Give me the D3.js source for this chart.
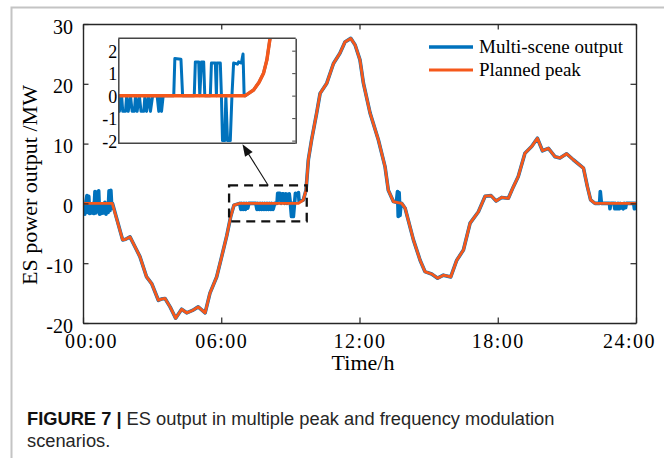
<!DOCTYPE html>
<html>
<head>
<meta charset="utf-8">
<script src="https://cdn.jsdelivr.net/npm/d3@7"></script>
<style>
body { margin: 0; background: #fff; }
svg text { font-family: "Liberation Serif", "Times New Roman", serif; fill: #000; }
svg text.caption { font-family: "Liberation Sans", Arial, sans-serif; fill: #262626; }
</style>
</head>
<body>
<svg id="chart" width="664" height="458"></svg>
<script>
// planned peak curve (orange), hours and MW
var planHours = [0, 1.27, 1.72, 1.85, 2.04, 2.25, 2.47, 2.76, 2.98, 3.27, 3.4, 3.56, 3.78, 4.02, 4.28, 4.5, 4.75, 5.0, 5.3, 5.51,
  5.8, 6.0, 6.24, 6.41, 6.55, 6.81, 9.35, 9.56, 9.68, 9.78, 9.92, 10.14, 10.29, 10.58, 10.87, 11.15, 11.37, 11.62, 11.81,
  12.02, 12.17, 12.46, 12.82, 13.11, 13.25, 13.47, 13.83, 13.98, 14.34, 14.63, 14.84, 15.13, 15.39, 15.64, 15.96, 16.22,
  16.51, 16.8, 17.16, 17.45, 17.71, 17.93, 18.17, 18.46, 18.68, 18.89, 19.18, 19.47, 19.72, 19.94, 20.2, 20.49, 20.7,
  20.99, 21.28, 21.72, 21.89, 22.03, 22.22, 24];
var planMW = [0, 0, -6.1, -6.0, -5.6, -7.2, -8.9, -12.3, -13.4, -16.2, -16.0, -15.9, -17.3, -19.2, -17.7, -18.3, -17.9, -17.3, -18.3, -15.0,
  -12.3, -9.2, -5.4, -2.2, -0.3, 0, 0, 0.57, 2.2, 7.3, 10.6, 15.1, 18.4, 20.1, 23.4, 25.1, 27.0, 27.6, 26.5,
  24.0, 20.1, 15.1, 10.6, 6.1, 2.2, 0.3, 0, -0.8, -6.1, -9.5, -11.4, -11.8, -12.5, -12.0, -12.3, -9.5,
  -7.8, -3.3, -1.4, 1.2, 1.3, 0.4, 1.0, 0.85, 2.8, 4.5, 8.4, 9.5, 10.9, 8.8, 9.2, 7.8, 7.6,
  8.3, 7.3, 5.9, 2.8, 0.6, 0, 0];

// multi-scene output (blue) where it departs from the plan: [hour, MW]
var noiseNight = [[0, -1.9], [0.04, -0.2], [0.08, -1.8], [0.13, 0.3], [0.17, 1.3], [0.21, -1.5], [0.25, 1.2], [0.29, -1.7],
  [0.34, -0.3], [0.38, -1.6], [0.43, 0], [0.47, -1.7], [0.52, 2.0], [0.56, -1.6], [0.6, 1.9], [0.64, 0.5], [0.68, 2.1],
  [0.72, -1.8], [0.77, -0.2], [0.81, -1.7], [0.86, -0.4], [0.9, -1.6], [0.95, 0.2], [1.0, -1.8], [1.05, 0], [1.09, -1.5],
  [1.13, 2.1], [1.17, -1.2], [1.21, 2.2], [1.25, -0.8], [1.28, 0]];
var noiseMorning = [[6.8, 0], [6.85, -1.0], [6.9, 0], [6.95, -1.0], [7.0, 0], [7.05, -1.0], [7.1, 0], [7.15, -0.8], [7.2, 0],
  [7.5, 0], [7.55, -1.0], [7.6, 0], [7.65, -1.0], [7.7, 0], [7.75, -1.0], [7.8, 0], [7.85, -1.0], [7.9, 0], [7.95, -1.0],
  [8.0, 0], [8.05, -1.0], [8.1, 0], [8.15, -1.0], [8.2, 0], [8.25, -1.0], [8.32, 0], [8.42, 0], [8.45, 1.7], [8.55, 1.7],
  [8.6, 0], [8.65, 1.6], [8.7, 1.6], [8.75, 0], [8.8, 1.6], [8.85, 0], [8.9, 1.5], [8.95, 1.6], [9.0, 0], [9.05, -2.2],
  [9.1, 0], [9.13, -2.2], [9.18, 0], [9.22, 1.7], [9.3, 1.5], [9.35, 1.8], [9.38, 0.3]];
var noiseNoon = [[13.6, 0.2], [13.65, 2.0], [13.68, -2.2], [13.72, 1.8], [13.76, -2.0], [13.8, 0]];
var noiseEvening = [[22.42, 0], [22.45, 2.0], [22.5, 0], [22.85, 0], [22.87, -0.9], [22.9, 0], [23.05, 0], [23.08, -0.9],
  [23.12, 0], [23.15, -0.9], [23.2, -0.9], [23.22, 0], [23.28, -0.9], [23.32, 0], [23.4, -0.8], [23.45, -0.9], [23.5, 0],
  [23.55, -0.7], [23.58, 0], [23.9, 0], [23.93, -0.9], [23.96, 0], [24, -0.5]];

// inset (zoom of the flat morning part)
var insetScene = [[6.8, 0], [6.82, -0.7], [6.86, 0], [6.88, -0.7], [6.93, -0.7], [6.95, 0], [6.98, -0.7], [7.02, 0],
  [7.05, -0.7], [7.09, -0.7], [7.11, 0], [7.14, -0.7], [7.18, 0], [7.21, -0.7], [7.26, -0.7], [7.28, 0], [7.31, -0.7],
  [7.35, 0], [7.38, -0.7], [7.42, 0], [7.5, 0], [7.53, -0.7], [7.56, 0], [7.58, -0.7], [7.61, 0], [7.8, 0], [7.82, 1.65],
  [7.93, 1.62], [7.96, 0], [8.17, 0], [8.19, 1.5], [8.25, 1.5], [8.27, 0], [8.3, 1.5], [8.34, 1.5], [8.36, 0], [8.46, 0],
  [8.48, 1.45], [8.55, 1.45], [8.57, 0], [8.58, 1.45], [8.64, 1.45], [8.66, 0], [8.68, -2.0], [8.72, -2.0], [8.74, 0],
  [8.77, -2.0], [8.82, -2.0], [8.85, 0], [8.88, 1.45], [8.95, 1.4], [8.97, 1.5], [9.02, 1.45], [9.05, 1.85], [9.07, 0]];
var insetPlan = [[6.8, 0], [9.09, 0], [9.24, 0.25], [9.34, 0.6], [9.42, 1.0], [9.48, 1.59], [9.54, 2.6], [9.6, 3.6]];

var xTicks = [0, 6, 12, 18, 24];
var xTickLabels = ["00:00", "06:00", "12:00", "18:00", "24:00"];
var yTicks = [-20, -10, 0, 10, 20, 30];
var insetTicks = [-2, -1, 0, 1, 2];

var BLUE = "#0072bd";
var ORANGE = "#f5581b";
var AXIS = "#262626";

// plain hyphen for negatives, like the original
function plainNum(d) { return String(d); }

//////////////////////////////////
var svg = d3.select("#chart");

svg.append("path")  // figure frame (left and top only)
  .attr("d", "M 11.5,458 V 7.5 H 664")
  .attr("fill", "none")
  .attr("stroke", "#c4c4c4")
  .attr("stroke-width", 2);

var x = d3.scaleLinear().domain([0, 24]).range([83, 636]);
var y = d3.scaleLinear().domain([-20, 30]).range([323, 24]);

svg.append("clipPath").attr("id", "plotClip")
  .append("rect")
  .attr("x", x(0)).attr("y", y(30))
  .attr("width", x(24) - x(0)).attr("height", y(-20) - y(30));

var planned = planHours.map(function(h, i) { return [h, planMW[i]]; });

// blue = plan outside the noisy spans, noisy points inside them
var noiseSets = [noiseNight, noiseMorning, noiseNoon, noiseEvening];
var scene = planned.filter(function(p) {
  return !noiseSets.some(function(s) { return p[0] >= s[0][0] && p[0] <= s[s.length - 1][0]; });
});
noiseSets.forEach(function(s) { scene = scene.concat(s); });
scene.sort(function(a, b) { return a[0] - b[0]; });

var line = d3.line()
  .x(function(d) { return x(d[0]); })
  .y(function(d) { return y(d[1]); });

var plot = svg.append("g").attr("clip-path", "url(#plotClip)");
plot.append("path")
  .attr("d", line(scene))
  .attr("fill", "none")
  .attr("stroke", BLUE)
  .attr("stroke-width", 3.6)
  .attr("stroke-linejoin", "round");
plot.append("path")
  .attr("d", line(planned))
  .attr("fill", "none")
  .attr("stroke", ORANGE)
  .attr("stroke-width", 2.8)
  .attr("stroke-linejoin", "round");

//////////////////////////////////
// axes, ticks inside, box on
function styleAxis(g) {
  g.select(".domain").attr("stroke", AXIS).attr("stroke-width", 1.4);
  g.selectAll(".tick line").attr("stroke", AXIS).attr("stroke-width", 1.2);
}

var xAxis = svg.append("g")
  .attr("transform", "translate(0," + y(-20) + ")")
  .call(d3.axisBottom(x).tickValues(xTicks).tickSize(-5.5).tickSizeOuter(0)
    .tickFormat(function(d, i) { return xTickLabels[i]; }));
styleAxis(xAxis);
xAxis.selectAll(".tick text")
  .attr("y", 25).attr("dy", null)
  .attr("dx", function(d) { return d === 0 ? 8 : d === 24 ? -7 : 0; })
  .style("font-size", "20px")
  .style("letter-spacing", "1.5px")
  .attr("fill", "#000");

var xTop = svg.append("g")
  .attr("transform", "translate(0," + y(30) + ")")
  .call(d3.axisTop(x).tickValues(xTicks).tickSize(-5.5).tickSizeOuter(0).tickFormat(""));
styleAxis(xTop);

var yAxis = svg.append("g")
  .attr("transform", "translate(" + x(0) + ",0)")
  .call(d3.axisLeft(y).tickValues(yTicks).tickSize(-5.5).tickSizeOuter(0).tickFormat(plainNum));
styleAxis(yAxis);
yAxis.selectAll(".tick text")
  .attr("x", -10).attr("dy", 9)
  .style("font-size", "20px")
  .attr("fill", "#000");

var yRight = svg.append("g")
  .attr("transform", "translate(" + x(24) + ",0)")
  .call(d3.axisRight(y).tickValues(yTicks).tickSize(-5.5).tickSizeOuter(0).tickFormat(""));
styleAxis(yRight);

svg.append("text")
  .attr("x", 363).attr("y", 370)
  .attr("text-anchor", "middle")
  .style("font-size", "22px")
  .text("Time/h");

svg.append("text")
  .attr("transform", "translate(37,185) rotate(-90)")
  .attr("text-anchor", "middle")
  .style("font-size", "22px")
  .text("ES power output /MW");

//////////////////////////////////
// legend
var legend = [
  { name: "Multi-scene output", color: BLUE, w: 3.6, y: 47 },
  { name: "Planned peak", color: ORANGE, w: 3, y: 70 }
];
legend.forEach(function(l) {
  svg.append("line")
    .attr("x1", 429).attr("x2", 473).attr("y1", l.y).attr("y2", l.y)
    .attr("stroke", l.color).attr("stroke-width", l.w);
  svg.append("text")
    .attr("x", 479).attr("y", l.y + 5.5)
    .style("font-size", "19px")
    .text(l.name);
});

//////////////////////////////////
// dashed zoom box and arrow
svg.append("rect")
  .attr("x", x(6.34)).attr("y", y(3))
  .attr("width", x(9.71) - x(6.34)).attr("height", y(-3) - y(3))
  .attr("fill", "none")
  .attr("stroke", "#111")
  .attr("stroke-width", 2.3)
  .attr("stroke-dasharray", "9,6");

var ix = d3.scaleLinear().domain([6.8, 10]).range([118.3, 295.7]);
var iy = d3.scaleLinear().domain([-2.12, 2.55]).range([143.3, 38.3]);

var ax0 = x(8.04), ay0 = y(3), ax1 = ix(9.04), ay1 = iy(-2.12) + 1;
var ang = Math.atan2(ay1 - ay0, ax1 - ax0);
svg.append("line")
  .attr("x1", ax0).attr("y1", ay0)
  .attr("x2", ax1 - 9 * Math.cos(ang)).attr("y2", ay1 - 9 * Math.sin(ang))
  .attr("stroke", "#111").attr("stroke-width", 1.1);
svg.append("path")
  .attr("transform", "translate(" + ax1 + "," + ay1 + ") rotate(" + (ang * 180 / Math.PI) + ")")
  .attr("d", "M 0,0 L -12,-4.5 L -12,4.5 Z")
  .attr("fill", "#111");

//////////////////////////////////
// inset
svg.append("rect")
  .attr("x", ix(6.8)).attr("y", iy(2.55))
  .attr("width", ix(10) - ix(6.8)).attr("height", iy(-2.12) - iy(2.55))
  .attr("fill", "#fff");

svg.append("clipPath").attr("id", "insetClip")
  .append("rect")
  .attr("x", ix(6.8)).attr("y", iy(2.55))
  .attr("width", ix(10) - ix(6.8)).attr("height", iy(-2.12) - iy(2.55));

var iline = d3.line()
  .x(function(d) { return ix(d[0]); })
  .y(function(d) { return iy(d[1]); });

// blue follows the plan once the noise stops
var insetSceneFull = insetScene.concat(insetPlan.filter(function(p) { return p[0] > 9.07; }));

var inset = svg.append("g").attr("clip-path", "url(#insetClip)");
inset.append("path")
  .attr("d", iline(insetSceneFull))
  .attr("fill", "none")
  .attr("stroke", BLUE)
  .attr("stroke-width", 3)
  .attr("stroke-linejoin", "round");
inset.append("path")
  .attr("d", iline(insetPlan))
  .attr("fill", "none")
  .attr("stroke", ORANGE)
  .attr("stroke-width", 3.5)
  .attr("stroke-linejoin", "round");

var iyAxis = svg.append("g")
  .attr("transform", "translate(" + ix(6.8) + ",0)")
  .call(d3.axisLeft(iy).tickValues(insetTicks).tickSize(0).tickSizeOuter(0).tickFormat(plainNum));
iyAxis.select(".domain").attr("stroke", "#444").attr("stroke-width", 1.5);
iyAxis.selectAll(".tick text")
  .attr("x", -1).attr("dy", 6.5)
  .style("font-size", "18px")
  .attr("fill", "#000");

var iyRight = svg.append("g")
  .attr("transform", "translate(" + ix(10) + ",0)")
  .call(d3.axisRight(iy).tickValues(insetTicks).tickSize(-3.5).tickSizeOuter(0).tickFormat(""));
iyRight.select(".domain").attr("stroke", "#444").attr("stroke-width", 1.5);
iyRight.selectAll(".tick line").attr("stroke", "#444");

[iy(2.55), iy(-2.12)].forEach(function(yy) {
  svg.append("line")
    .attr("x1", ix(6.8)).attr("x2", ix(10)).attr("y1", yy).attr("y2", yy)
    .attr("stroke", "#444").attr("stroke-width", 1.5);
});

//////////////////////////////////
// caption
var cap = svg.append("text")
  .attr("class", "caption")
  .attr("x", 27).attr("y", 425)
  .style("font-size", "18.3px");
cap.append("tspan").style("font-weight", "bold").attr("fill", "#111").text("FIGURE 7 | ");
cap.append("tspan").text("ES output in multiple peak and frequency modulation");

svg.append("text")
  .attr("class", "caption")
  .attr("x", 27).attr("y", 447)
  .style("font-size", "18.3px")
  .text("scenarios.");
</script>
</body>
</html>
